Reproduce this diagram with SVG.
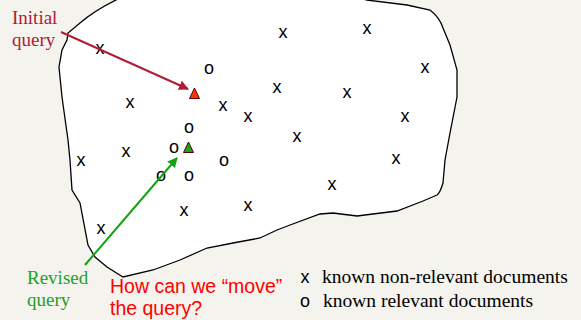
<svg xmlns="http://www.w3.org/2000/svg" width="581" height="320" viewBox="0 0 581 320">
<defs>
<style>
.m{font-family:"Liberation Sans",Arial,sans-serif;font-size:18px;fill:#000;text-anchor:middle}
.s{font-family:"Liberation Serif","Times New Roman",serif;font-size:19px}
.lg{font-family:"Liberation Serif","Times New Roman",serif;font-size:19.5px;fill:#000}
.q{font-family:"Liberation Sans",Arial,sans-serif;font-size:19.5px;fill:#ff0000}
.tri{stroke:#5a0000;stroke-width:1}
</style>
<marker id="ar" viewBox="0 0 10 10" refX="9" refY="5" markerWidth="5" markerHeight="5" orient="auto-start-reverse" markerUnits="strokeWidth"><path d="M0,0 L10,5 L0,10 z" fill="#b01c34"/></marker>
<marker id="ag" viewBox="0 0 10 10" refX="9" refY="5" markerWidth="5" markerHeight="5" orient="auto-start-reverse" markerUnits="strokeWidth"><path d="M0,0 L10,5 L0,10 z" fill="#11a311"/></marker>
</defs>
<rect width="581" height="320" fill="#f4f3ed"/>
<g id="space">
<path d="M120,-2 C200,-10 330,-8 367,0 L407,5 L430,10 Q440,18 443,28 L450,45 L457,70 L457,97 L450,133 L445,160 L443,183 Q440,193 437,195 L423,201 L397,211 L357,216 L333,213 L320,214 L290,225 L277,230 L260,238 L233,243 L207,248 L180,260 L153,270 L123,277 L107,267 L95,257 L88,245 L80,203 L72,190 L70,160 L68,140 L62,97 L59,67 L62,50 L67,40 L68,33 L80,23 Q95,10 120,-2 Z" fill="#fff" stroke="#000" stroke-width="1.3"/>
</g>
<g id="non-relevant">
<text class="m" x="100" y="54">x</text>
<text class="m" x="130" y="108">x</text>
<text class="m" x="81" y="166">x</text>
<text class="m" x="126" y="157">x</text>
<text class="m" x="101" y="234">x</text>
<text class="m" x="184" y="216">x</text>
<text class="m" x="248" y="211">x</text>
<text class="m" x="223" y="111">x</text>
<text class="m" x="248" y="122">x</text>
<text class="m" x="277" y="93">x</text>
<text class="m" x="283" y="38">x</text>
<text class="m" x="367" y="34">x</text>
<text class="m" x="425" y="73">x</text>
<text class="m" x="347" y="98">x</text>
<text class="m" x="405" y="122">x</text>
<text class="m" x="297" y="142">x</text>
<text class="m" x="396" y="164">x</text>
<text class="m" x="332" y="190">x</text>
</g>
<g id="relevant">
<text class="m" x="209" y="74">o</text>
<text class="m" x="189" y="133">o</text>
<text class="m" x="174" y="153">o</text>
<text class="m" x="224" y="166">o</text>
<text class="m" x="161" y="181">o</text>
<text class="m" x="189" y="181">o</text>
</g>
<g id="initial-query">
<polygon class="tri" points="194.5,88 199.5,98.5 189.5,98.5" fill="#ff3300"/>
</g>
<g id="revised-query">
<polygon class="tri" points="188.5,142 193.5,152.5 183.5,152.5" fill="#1aa51a"/>
</g>
<g id="connectors">
<line x1="61" y1="32" x2="188" y2="89" stroke="#b01c34" stroke-width="2" marker-end="url(#ar)"/>
<line x1="85" y1="265" x2="177" y2="158" stroke="#11a311" stroke-width="2" marker-end="url(#ag)"/>
</g>
<g id="labels">
<text class="s" fill="#b01c34" x="12" y="24">Initial</text>
<text class="s" fill="#b01c34" x="12" y="46">query</text>
<text class="s" fill="#1fa01f" x="27" y="284">Revised</text>
<text class="s" fill="#1fa01f" x="27" y="306">query</text>
<text class="q" x="110" y="293">How can we “move”</text>
<text class="q" x="110" y="315">the query?</text>
</g>
<g id="legend">
<text class="m" x="305" y="283">x</text>
<text class="m" x="305" y="307">o</text>
<text class="lg" x="322" y="283">known non-relevant documents</text>
<text class="lg" x="323" y="307">known relevant documents</text>
</g>
</svg>
